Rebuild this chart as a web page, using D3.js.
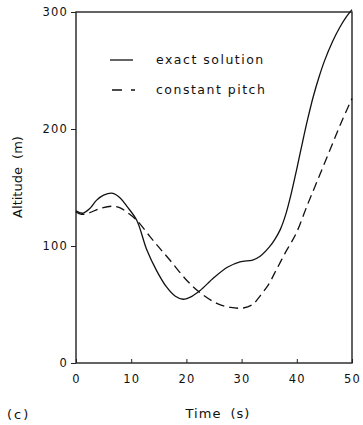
<!DOCTYPE html>
<html>
<head>
<meta charset="utf-8">
<script src="https://cdn.jsdelivr.net/npm/d3@7"></script>
<style>
  html, body { margin: 0; padding: 0; background: #fff; }
  svg { display: block; }
  text { font-family: "DejaVu Sans", sans-serif; fill: #111; }
</style>
</head>
<body>
<svg id="chart" width="363" height="425"></svg>
<script>
// Altitude histories: exact solution vs constant pitch
const exactTime = [0, 1.2, 2.5, 3.7, 5, 6.7, 8, 9.2, 11, 12.8, 14.6, 16.4, 18, 19.4, 21, 22.5, 25, 27.5, 29.7, 32, 33.3, 35, 36, 37, 38, 39, 40, 41, 42, 43, 44, 45, 46.5, 47.8, 49, 50];
const exactAlt  = [130, 128, 132, 139, 143.5, 145, 141, 134, 122, 97, 79, 65, 57, 54.5, 57, 62, 73, 82, 86.5, 88, 91, 99, 105.5, 114, 127, 145, 166, 188, 209, 228, 244, 258, 275, 287, 296, 302];

const pitchTime = [0, 1, 2.5, 4, 6.5, 8, 9.2, 11, 13.4, 15, 17, 20, 22.5, 25.5, 28, 30.3, 32, 33.3, 35, 36, 37, 38, 39, 40, 42, 44, 46, 48, 50];
const pitchAlt  = [129, 127, 128.5, 131.5, 134, 132.5, 129, 122, 108, 99, 88, 71, 60, 51, 47.5, 47, 50, 57, 68, 77, 86, 95, 103, 112, 136, 159, 182, 205, 226];

const xTicks = [0, 10, 20, 30, 40, 50];
const yTicks = [0, 100, 200, 300];
const legendLabels = ["exact solution", "constant pitch"];

const svg = d3.select("#chart");
const margin = { left: 76, right: 11, top: 12, bottom: 62 };
const W = 363, H = 425;
const x = d3.scaleLinear().domain([0, 50]).range([margin.left, W - margin.right]);
const y = d3.scaleLinear().domain([0, 300]).range([H - margin.bottom, margin.top]);

// axes
const gx = svg.append("g")
  .attr("transform", `translate(0,${y(0)})`)
  .call(d3.axisBottom(x).tickValues(xTicks).tickSize(-4).tickPadding(12).tickFormat(d3.format("d")));
const gy = svg.append("g")
  .attr("transform", `translate(${x(0)},0)`)
  .call(d3.axisLeft(y).tickValues(yTicks).tickSize(5).tickPadding(3).tickFormat(d3.format("d")));
[gx, gy].forEach(g => {
  g.select(".domain").remove();
  g.selectAll(".tick line").attr("stroke", "#222").attr("stroke-width", 1);
  g.selectAll(".tick text")
    .style("font-family", "DejaVu Sans, sans-serif")
    .style("font-size", "11.5px")
    .style("letter-spacing", "1.2px")
    .attr("fill", "#111");
});

// frame
svg.append("rect")
  .attr("x", x(0)).attr("y", y(300))
  .attr("width", x(50) - x(0)).attr("height", y(0) - y(300))
  .attr("fill", "none").attr("stroke", "#222").attr("stroke-width", 1.4);

// curves
const line = d3.line().x(d => x(d[0])).y(d => y(d[1])).curve(d3.curveCatmullRom.alpha(0.5));
svg.append("path")
  .datum(d3.zip(exactTime, exactAlt))
  .attr("d", line)
  .attr("fill", "none").attr("stroke", "#111").attr("stroke-width", 1.3);
svg.append("path")
  .datum(d3.zip(pitchTime, pitchAlt))
  .attr("d", line)
  .attr("fill", "none").attr("stroke", "#111").attr("stroke-width", 1.3)
  .attr("stroke-dasharray", "9,5");

// legend
const legend = svg.append("g");
legend.append("line")
  .attr("x1", 110).attr("x2", 133).attr("y1", 60).attr("y2", 60)
  .attr("stroke", "#111").attr("stroke-width", 1.3);
legend.append("line")
  .attr("x1", 112).attr("x2", 136).attr("y1", 90).attr("y2", 90)
  .attr("stroke", "#111").attr("stroke-width", 1.3)
  .attr("stroke-dasharray", "10,9,4,100");
legendLabels.forEach((t, i) => {
  legend.append("text")
    .attr("x", 156).attr("y", 60 + i * 30).attr("dy", "0.35em")
    .style("font-size", "12.5px").style("letter-spacing", "1.5px")
    .text(t);
});

// axis titles
svg.append("text")
  .attr("x", 218).attr("y", 418)
  .attr("text-anchor", "middle")
  .style("font-size", "13px").style("letter-spacing", "1px").style("word-spacing", "4px")
  .text("Time (s)");
svg.append("text")
  .attr("transform", "translate(22,177) rotate(-90)")
  .attr("text-anchor", "middle")
  .style("font-size", "13px").style("word-spacing", "4px")
  .text("Altitude (m)");
svg.append("text")
  .attr("x", 7).attr("y", 419)
  .style("font-size", "13px").style("letter-spacing", "2px")
  .text("(c)");
</script>
</body>
</html>
